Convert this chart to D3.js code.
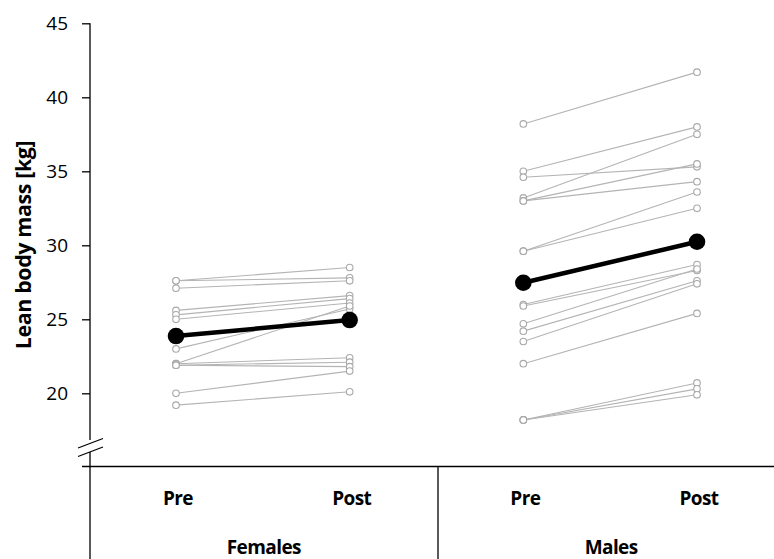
<!DOCTYPE html>
<html>
<head>
<meta charset="utf-8">
<script src="https://cdn.jsdelivr.net/npm/d3@7"></script>
<style>
  html, body { margin: 0; padding: 0; background: #fff; }
  svg { display: block; }
  text { font-family: "Open Sans", Lato, sans-serif; fill: #000; }
</style>
</head>
<body>
<svg id="chart" width="774" height="559"></svg>
<script>
// Lean body mass (kg) per participant, before and after the programme
const groups = ["Females", "Males"];
const phases = ["Pre", "Post"];

const femalesPre  = [27.6, 27.6, 27.1, 25.6, 25.3, 25.0, 23.0, 22.0, 22.0, 21.9, 21.9, 20.0, 19.2];
const femalesPost = [28.5, 27.8, 27.6, 26.6, 26.4, 26.1, 25.7, 25.9, 22.4, 22.1, 21.8, 21.5, 20.1];

const malesPre  = [38.2, 35.0, 34.6, 33.2, 33.0, 33.0, 29.6, 29.6, 26.0, 25.9, 24.7, 24.2, 23.5, 22.0, 18.2, 18.2, 18.2];
const malesPost = [41.7, 38.0, 35.3, 37.5, 35.5, 34.3, 33.6, 32.5, 28.7, 28.3, 28.4, 27.6, 27.4, 25.4, 20.7, 20.3, 19.9];

// group means (Pre, Post)
const femalesMean = [23.87, 24.95];
const malesMean   = [27.47, 30.24];

const yTicks = [20, 25, 30, 35, 40, 45];
const yLabel = "Lean body mass [kg]";

const svg = d3.select("#chart");

const y = d3.scaleLinear().domain([20, 45]).range([393.3, 23.3]);
const x = d3.scalePoint()
  .domain(groups.flatMap(g => phases.map(p => g + "|" + p)))
  .range([176, 697]);

const axisX = 90;
const baseY = 466.5;

// individual trajectories
const series = [
  { g: "Females", pre: femalesPre, post: femalesPost },
  { g: "Males",   pre: malesPre,   post: malesPost }
];
const people = series.flatMap(s => s.pre.map((v, i) => ({ g: s.g, pre: v, post: s.post[i] })));

const indiv = svg.append("g").attr("class", "individuals");
indiv.selectAll("line").data(people).join("line")
  .attr("x1", d => x(d.g + "|Pre")).attr("y1", d => y(d.pre))
  .attr("x2", d => x(d.g + "|Post")).attr("y2", d => y(d.post))
  .attr("stroke", "#b4b4b4").attr("stroke-width", 1.1);

const pts = people.flatMap(d => [
  { x: x(d.g + "|Pre"), v: d.pre },
  { x: x(d.g + "|Post"), v: d.post }
]);
indiv.selectAll("circle").data(pts).join("circle")
  .attr("cx", d => d.x).attr("cy", d => y(d.v)).attr("r", 3.3)
  .attr("fill", "#fff").attr("stroke", "#a8a8a8").attr("stroke-width", 1.1);

// group means
const means = [
  { g: "Females", v: femalesMean },
  { g: "Males",   v: malesMean }
];
const meanG = svg.append("g").attr("class", "means");
meanG.selectAll("line").data(means).join("line")
  .attr("x1", d => x(d.g + "|Pre")).attr("y1", d => y(d.v[0]))
  .attr("x2", d => x(d.g + "|Post")).attr("y2", d => y(d.v[1]))
  .attr("stroke", "#000").attr("stroke-width", 4.5);
meanG.selectAll("circle").data(means.flatMap(d => phases.map((p, i) => ({ x: x(d.g + "|" + p), v: d.v[i] }))))
  .join("circle")
  .attr("cx", d => d.x).attr("cy", d => y(d.v)).attr("r", 8.3)
  .attr("fill", "#000");

// y axis
const yAxis = d3.axisLeft(y).tickValues(yTicks).tickSize(8).tickPadding(14).tickFormat(d3.format("d"));
const ya = svg.append("g").attr("transform", `translate(${axisX},0)`).call(yAxis);
ya.select(".domain").remove();
ya.selectAll(".tick line").attr("stroke", "#000").attr("stroke-width", 1.3);
ya.selectAll(".tick text").attr("font-size", 19).attr("font-family", "Lato, sans-serif").attr("fill", "#111");

// axis spine with a break
svg.append("line").attr("x1", axisX).attr("x2", axisX).attr("y1", y(45)).attr("y2", 440)
  .attr("stroke", "#000").attr("stroke-width", 1.3);
svg.append("line").attr("x1", axisX).attr("x2", axisX).attr("y1", 452).attr("y2", 559)
  .attr("stroke", "#000").attr("stroke-width", 1.3);
[0, 8.5].forEach(o => {
  svg.append("line")
    .attr("x1", 78).attr("y1", 448 + o).attr("x2", 103).attr("y2", 438.5 + o)
    .attr("stroke", "#000").attr("stroke-width", 1.2);
});

// category table below the plot
svg.append("line").attr("x1", 82).attr("x2", 774).attr("y1", baseY).attr("y2", baseY)
  .attr("stroke", "#000").attr("stroke-width", 1.3);
const divX = (x("Females|Post") + x("Males|Pre")) / 2 + 1.5;
svg.append("line").attr("x1", divX).attr("x2", divX).attr("y1", baseY).attr("y2", 559)
  .attr("stroke", "#000").attr("stroke-width", 1.3);

const phaseLabels = groups.flatMap(g => phases.map(p => ({ g, p })));
svg.append("g").selectAll("text").data(phaseLabels).join("text")
  .attr("x", d => x(d.g + "|" + d.p) + 2).attr("y", 505)
  .attr("text-anchor", "middle").attr("font-size", 19).attr("font-weight", 700)
  .attr("letter-spacing", -0.6)
  .text(d => d.p);

svg.append("g").selectAll("text").data(groups).join("text")
  .attr("x", g => (x(g + "|Pre") + x(g + "|Post")) / 2 + 1).attr("y", 554)
  .attr("text-anchor", "middle").attr("font-size", 19).attr("font-weight", 700)
  .attr("letter-spacing", -0.6)
  .text(g => g);

// y axis title, sized to span the upper part of the axis
const title = svg.append("text")
  .attr("transform", `translate(31,${245}) rotate(-90)`)
  .attr("text-anchor", "middle").attr("font-size", 16).attr("font-weight", 700)
  .attr("letter-spacing", -0.4)
  .text(yLabel);
const w = title.node().getComputedTextLength();
title.attr("font-size", 16 * 206 / w);
</script>
</body>
</html>
